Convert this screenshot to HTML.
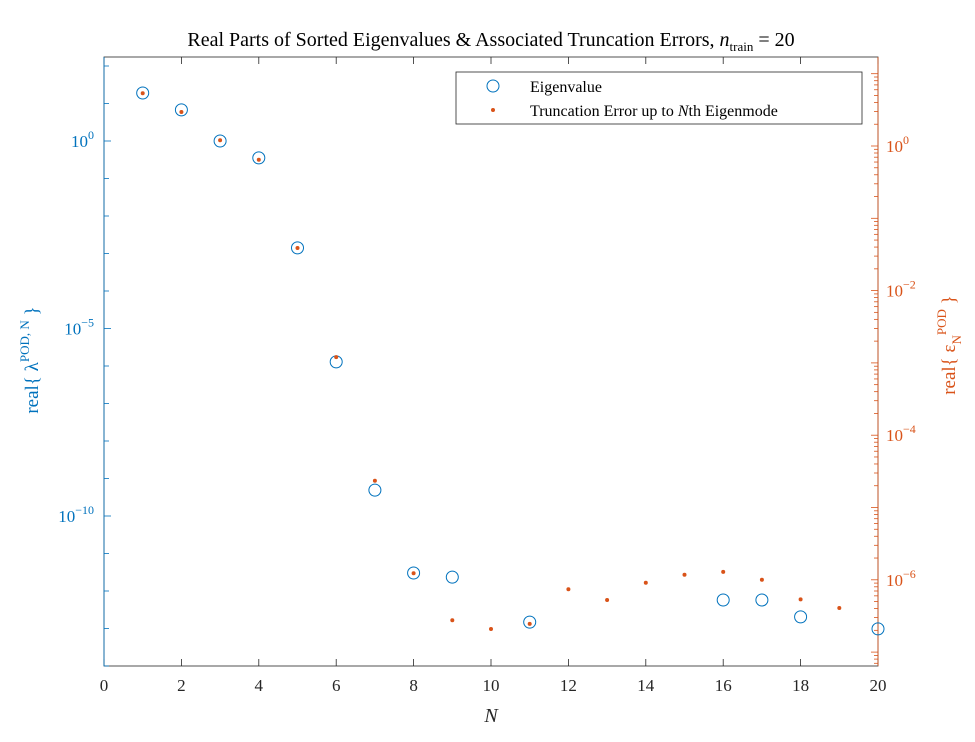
<!DOCTYPE html>
<html><head><meta charset="utf-8"><style>
body{margin:0;background:#fff}
svg{display:block;font-family:"Liberation Serif",serif}
</style></head><body>
<svg id="chart" width="975" height="742" viewBox="0 0 975 742"></svg>
<script>
const categoriesEig=[1,2,3,4,5,6,7,8,9,11,16,17,18,20];
const eigLog10=[1.28,0.83,0,-0.45,-2.85,-5.89,-9.31,-11.52,-11.63,-12.83,-12.24,-12.24,-12.69,-13.01];
const categoriesErr=[1,2,3,4,5,6,7,8,9,10,11,12,13,14,15,16,17,18,19];
const errLog10=[0.73,0.47,0.08,-0.19,-1.41,-2.92,-4.63,-5.91,-6.56,-6.68,-6.61,-6.13,-6.28,-6.04,-5.93,-5.89,-6.0,-6.27,-6.39];
const xTicks=[0,2,4,6,8,10,12,14,16,18,20];
const leftTicks=[0,-5,-10];
const rightTicks=[0,-2,-4,-6];

const NS="http://www.w3.org/2000/svg";
const svg=document.getElementById('chart');
const L=104,R=878,T=57,B=666;
const BLUE="#0072BD",ORANGE="#D95319";
const xs=v=>L+(v/20)*(R-L);
const yl=v=>141-v*37.5;
const yr=v=>146-v*72.3;
function el(tag,attrs,text){const e=document.createElementNS(NS,tag);for(const k in attrs)e.setAttribute(k,attrs[k]);if(text!==undefined)e.textContent=text;svg.appendChild(e);return e;}

const frame=el('rect',{x:L,y:T,width:R-L,height:B-T,fill:'none',stroke:'#262626','stroke-width':0.8});



xTicks.forEach(t=>{
  const x=xs(t);
  el('line',{x1:x,x2:x,y1:B,y2:B-7,stroke:'#262626','stroke-width':0.8});
  el('line',{x1:x,x2:x,y1:T,y2:T+7,stroke:'#262626','stroke-width':0.8});
  const tx=el('text',{x:x,y:B+25,'text-anchor':'middle','font-size':17,fill:'#262626'},String(t));
  
  
});
for(let d=2;d>=-14;d--){const y=yl(d);if(y<T||y>B)continue;
  el('line',{x1:L,x2:L+(leftTicks.includes(d)?7:5),y1:y,y2:y,stroke:BLUE,'stroke-width':0.8});}
leftTicks.forEach(d=>{
  const t=el('text',{x:L-10,y:yl(d)+6,'text-anchor':'end','font-size':17,fill:BLUE});
  t.innerHTML='10<tspan dy="-8" font-size="12">'+(d===0?'0':'−'+(-d))+'</tspan>';
  
  
});
for(let d=1;d>=-8;d--){
  const y=yr(d);
  if(y>=T&&y<=B)el('line',{x1:R,x2:R-7,y1:y,y2:y,stroke:ORANGE,'stroke-width':0.8});
  for(let m=2;m<=9;m++){const ym=yr(d+Math.log10(m));if(ym>=T&&ym<=B)el('line',{x1:R,x2:R-4,y1:ym,y2:ym,stroke:ORANGE,'stroke-width':0.8});}
}
el('line',{x1:R,x2:R,y1:T,y2:B,stroke:ORANGE,'stroke-width':0.8});
el('line',{x1:L,x2:L,y1:T,y2:B,stroke:BLUE,'stroke-width':0.8});
rightTicks.forEach(d=>{
  const t=el('text',{x:R+8,y:yr(d)+6,'font-size':17,fill:ORANGE});
  t.innerHTML='10<tspan dy="-8" font-size="12">'+(d===0?'0':'−'+(-d))+'</tspan>';
  
  
});

categoriesEig.forEach((n,i)=>{
  const c=el('circle',{cx:xs(n),cy:yl(eigLog10[i]),r:6,fill:'none',stroke:BLUE,'stroke-width':1});
  
  
});
categoriesErr.forEach((n,i)=>{
  const c=el('circle',{cx:xs(n),cy:yr(errLog10[i]),r:2,fill:ORANGE});
  
  
});

const title=el('text',{x:491,y:46,'text-anchor':'middle','font-size':20,fill:'#000'});
title.innerHTML='Real Parts of Sorted Eigenvalues &amp; Associated Truncation Errors, <tspan font-style="italic">n</tspan><tspan dy="5" font-size="13">train</tspan><tspan dy="-5"> = 20</tspan>';



const xl=el('text',{x:491,y:722,'text-anchor':'middle','font-size':20,'font-style':'italic',fill:'#262626'},'N');



const ylT=el('text',{transform:'translate(38,360) rotate(-90)','text-anchor':'middle','font-size':19,fill:BLUE});
ylT.innerHTML='real{ λ<tspan dy="-9" font-size="13">POD, N</tspan><tspan dy="9"> }</tspan>';



const yrT=el('text',{transform:'translate(955,345) rotate(-90)','text-anchor':'middle','font-size':19,fill:ORANGE});
yrT.innerHTML='real{ ε<tspan dy="6" font-size="13">N</tspan><tspan dy="-15" font-size="13">POD</tspan><tspan dy="9"> }</tspan>';



const lg=el('rect',{x:456,y:72,width:406,height:52,fill:'#fff',stroke:'#262626','stroke-width':0.8});


el('circle',{cx:493,cy:86,r:6,fill:'none',stroke:BLUE,'stroke-width':1});
el('circle',{cx:493,cy:110,r:2,fill:ORANGE});
const l1=el('text',{x:530,y:92,'font-size':16,fill:'#000'},'Eigenvalue');


const l2=el('text',{x:530,y:116,'font-size':16,fill:'#000'});
l2.innerHTML='Truncation Error up to <tspan font-style="italic">N</tspan>th Eigenmode';


</script>
</body></html>
